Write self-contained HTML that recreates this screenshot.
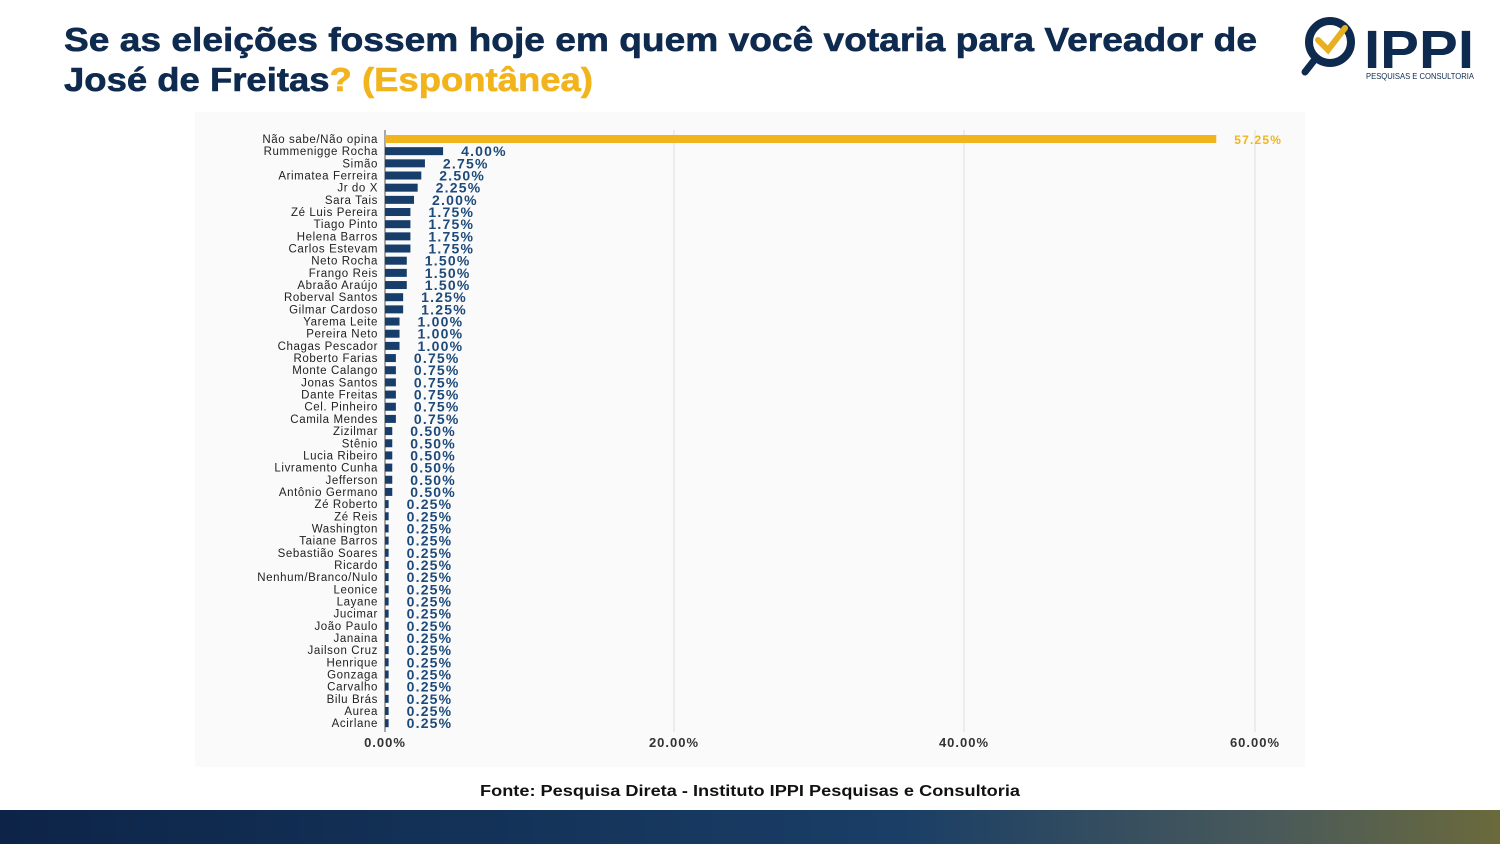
<!DOCTYPE html>
<html><head><meta charset="utf-8"><style>
body{margin:0;width:1500px;height:844px;overflow:hidden;background:#fff;font-family:"Liberation Sans",sans-serif}
</style></head><body>
<svg width="1500" height="844" xmlns="http://www.w3.org/2000/svg" font-family="Liberation Sans, sans-serif">
<defs><linearGradient id="g" x1="0" x2="1"><stop offset="0" stop-color="#0d2448"/><stop offset="0.6" stop-color="#1a3e66"/><stop offset="0.85" stop-color="#4a5a5a"/><stop offset="1" stop-color="#6b6a3c"/></linearGradient></defs>
<rect x="0" y="0" width="1500" height="844" fill="#fff"/>
<rect x="195" y="112" width="1110" height="655" fill="#fafafa"/>
<text x="64" y="51" font-size="33" font-weight="bold" fill="#0f2a4f" stroke="#0f2a4f" stroke-width="0.6" textLength="1193" lengthAdjust="spacingAndGlyphs">Se as eleições fossem hoje em quem você votaria para Vereador de</text>
<text x="64" y="91" font-size="33" font-weight="bold" fill="#0f2a4f" stroke="#0f2a4f" stroke-width="0.6" textLength="529" lengthAdjust="spacingAndGlyphs">José de Freitas<tspan fill="#f2b41c" stroke="#f2b41c">? (Espontânea)</tspan></text>
<!-- logo -->
<circle cx="1330" cy="42" r="21" fill="none" stroke="#0f2a4f" stroke-width="8"/>
<line x1="1316" y1="58" x2="1305" y2="72" stroke="#0f2a4f" stroke-width="7" stroke-linecap="round"/>
<polyline points="1318,40 1328,50 1345,28" fill="none" stroke="#e8b021" stroke-width="6" stroke-linecap="round"/>
<text x="1364" y="68" font-size="54" font-weight="bold" fill="#0f2a4f" textLength="110" lengthAdjust="spacingAndGlyphs">IPPI</text>
<text x="1366" y="79" font-size="8" fill="#0f2a4f" textLength="108" lengthAdjust="spacingAndGlyphs">PESQUISAS E CONSULTORIA</text>
<g stroke="#ddd" stroke-width="1">
<line x1="674" y1="130" x2="674" y2="732"/><line x1="964" y1="130" x2="964" y2="732"/><line x1="1255" y1="130" x2="1255" y2="732"/>
</g>
<line x1="385" y1="130" x2="385" y2="732" stroke="#555"/>
<g font-size="13" fill="#333" text-anchor="middle" font-weight="bold" letter-spacing="1">
<text x="385" y="747">0.00%</text><text x="674" y="747">20.00%</text><text x="964" y="747">40.00%</text><text x="1255" y="747">60.00%</text>
</g>
<g id="bars"></g>
<text x="480" y="796" font-size="16" font-weight="bold" fill="#111" textLength="540" lengthAdjust="spacingAndGlyphs">Fonte: Pesquisa Direta - Instituto IPPI Pesquisas e Consultoria</text>
<rect x="0" y="810" width="1500" height="34" fill="url(#g)"/>
</svg>
<script>
var d=[["Não sabe/Não opina",57.25],["Rummenigge Rocha",4],["Simão",2.75],["Arimatea Ferreira",2.5],["Jr do X",2.25],["Sara Tais",2],["Zé Luis Pereira",1.75],["Tiago Pinto",1.75],["Helena Barros",1.75],["Carlos Estevam",1.75],["Neto Rocha",1.5],["Frango Reis",1.5],["Abraão Araújo",1.5],["Roberval Santos",1.25],["Gilmar Cardoso",1.25],["Yarema Leite",1],["Pereira Neto",1],["Chagas Pescador",1],["Roberto Farias",.75],["Monte Calango",.75],["Jonas Santos",.75],["Dante Freitas",.75],["Cel. Pinheiro",.75],["Camila Mendes",.75],["Zizilmar",.5],["Stênio",.5],["Lucia Ribeiro",.5],["Livramento Cunha",.5],["Jefferson",.5],["Antônio Germano",.5],["Zé Roberto",.25],["Zé Reis",.25],["Washington",.25],["Taiane Barros",.25],["Sebastião Soares",.25],["Ricardo",.25],["Nenhum/Branco/Nulo",.25],["Leonice",.25],["Layane",.25],["Jucimar",.25],["João Paulo",.25],["Janaina",.25],["Jailson Cruz",.25],["Henrique",.25],["Gonzaga",.25],["Carvalho",.25],["Bilu Brás",.25],["Aurea",.25],["Acirlane",.25]];
var s="";
d.forEach(function(r,i){var y=139+i*12.17,w=r[1]*14.52,c=i?"#173d6b":"#f2b41c";
s+='<text x="378" y="'+(y+4)+'" font-size="11.5" letter-spacing="0.6" fill="#222" text-anchor="end">'+r[0]+'</text>';
s+='<rect x="385" y="'+(y-4)+'" width="'+w+'" height="8" fill="'+c+'"/>';
s+='<text x="'+(385+w+18)+'" y="'+(y+5)+'" font-size="'+(i?14:12)+'" font-weight="bold" letter-spacing="1.2" fill="'+(i?"#1d4a7a":"#f2b41c")+'">'+r[1].toFixed(2)+'%</text>';});
document.getElementById("bars").innerHTML=s;
</script>
</body></html>
